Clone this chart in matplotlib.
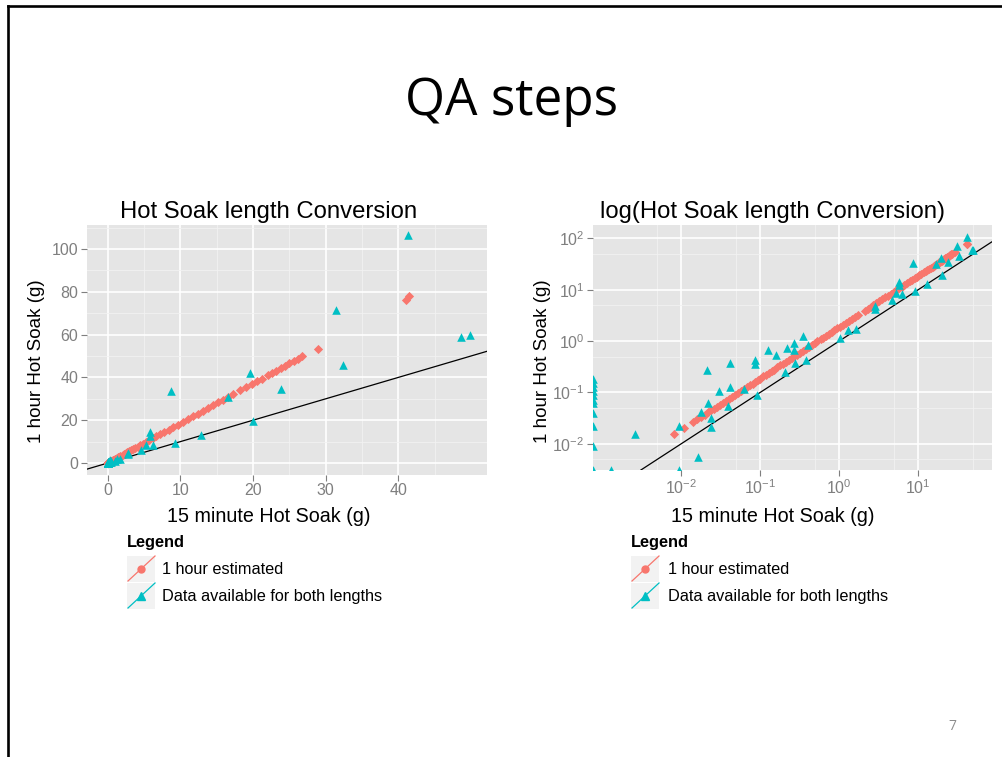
import numpy as np
import matplotlib
matplotlib.use("Agg")
import matplotlib.pyplot as plt
from matplotlib.lines import Line2D
from matplotlib.patches import Rectangle
from matplotlib.ticker import FixedLocator, LogFormatterSciNotation

plt.rcParams['font.family'] = ['Liberation Sans', 'DejaVu Sans']
plt.rcParams['axes.unicode_minus'] = False

# ---------------- data ----------------
# "1 hour estimated" (converted values)
est_15min = [0.008, 0.011, 0.014, 0.016, 0.018, 0.02, 0.022, 0.024, 0.026, 0.028,
             0.031, 0.034, 0.037, 0.04, 0.044, 0.048, 0.052, 0.057, 0.062, 0.068,
             0.074, 0.08, 0.087, 0.095, 0.10, 0.11, 0.12, 0.13, 0.14, 0.15,
             0.165, 0.18, 0.195, 0.21, 0.23, 0.25, 0.27, 0.29, 0.32, 0.35,
             0.38, 0.41, 0.45, 0.49, 0.53, 0.58, 0.63, 0.68, 0.74, 0.8,
             0.87, 0.95, 1.03, 1.12, 1.22, 1.33, 1.45, 1.6, 1.75, 2.1,
             2.3, 2.5, 2.7, 2.95, 3.2, 3.5, 3.8, 4.1, 4.5, 4.9,
             5.3, 5.7, 6.2, 6.7, 7.2, 7.8, 8.4, 9.0, 9.6, 10.3,
             11.0, 11.7, 12.4, 13.1, 13.8, 14.5, 15.2, 15.9, 16.5, 17.3,
             18.2, 19.0, 19.8, 20.5, 21.2, 22.0, 22.6, 23.2, 23.8, 24.4,
             25.0, 25.6, 26.2, 26.8, 28.9, 41.1, 41.5]
est_1hr = [0.0155, 0.0205, 0.026, 0.0298, 0.0335, 0.0372, 0.041, 0.0446, 0.0484, 0.0521,
           0.0577, 0.0632, 0.0688, 0.0744, 0.0818, 0.0893, 0.0967, 0.106, 0.115, 0.126,
           0.138, 0.149, 0.162, 0.177, 0.186, 0.205, 0.223, 0.242, 0.26, 0.279,
           0.307, 0.335, 0.363, 0.391, 0.428, 0.465, 0.502, 0.539, 0.595, 0.651,
           0.707, 0.763, 0.837, 0.911, 0.986, 1.08, 1.17, 1.26, 1.38, 1.49,
           1.62, 1.77, 1.92, 2.08, 2.27, 2.47, 2.70, 2.98, 3.26, 3.91,
           4.28, 4.65, 5.02, 5.49, 5.95, 6.51, 7.07, 7.63, 8.37, 9.11,
           9.86, 10.6, 11.5, 12.5, 13.4, 14.5, 15.6, 16.7, 17.9, 19.2,
           20.5, 21.8, 23.1, 24.4, 25.7, 27.0, 28.3, 29.6, 30.7, 32.2,
           33.9, 35.3, 36.8, 38.1, 39.4, 40.9, 42.0, 43.2, 44.3, 45.4,
           46.5, 47.6, 48.7, 49.8, 53.5, 76.2, 77.8]

# "Data available for both lengths" (measured pairs)
both_15min = [0, 0, 0, 0, 0, 0, 0, 0, 0, 0, 0,
              0.0013, 0.0026, 0.0095, 0.0094, 0.0161, 0.0179, 0.0218, 0.024, 0.024, 0.021,
              0.0305, 0.0417, 0.0417, 0.0396, 0.063, 0.086, 0.086, 0.091, 0.127, 0.159,
              0.206, 0.22, 0.27, 0.27, 0.275, 0.345, 0.38, 0.40, 1.02, 1.30,
              1.63, 2.8, 2.8, 4.6, 5.2, 5.76, 5.76, 6.2, 8.7, 9.2,
              12.9, 16.6, 19.6, 20.0, 23.8, 31.4, 32.4, 41.3, 48.6, 49.9]
both_1hr = [0.18, 0.15, 0.125, 0.107, 0.089, 0.072, 0.063, 0.04, 0.022, 0.0089, 0,
            0, 0.0155, 0, 0.022, 0.0055, 0.042, 0.063, 0.032, 0.021, 0.27,
            0.107, 0.37, 0.126, 0.055, 0.115, 0.42, 0.35, 0.089, 0.68, 0.54,
            0.245, 0.72, 0.91, 0.68, 0.37, 1.26, 0.43, 0.85, 1.15, 1.66,
            1.69, 4.8, 4.2, 6.3, 8.5, 14.4, 12.4, 8.3, 33.5, 9.4,
            13.2, 31.0, 42.0, 19.5, 34.5, 71.5, 46.0, 106.5, 58.8, 59.8]

lin_xticks = [0, 10, 20, 30, 40]
lin_yticks = [0, 20, 40, 60, 80, 100]
log_xticks = [1e-2, 1e-1, 1e0, 1e1]
log_yticks = [1e-2, 1e-1, 1e0, 1e1, 1e2]

# ---------------- style ----------------
W, H = 1003, 757
RED = '#F8766D'
CYAN = '#00BFC4'
PANEL = '#E5E5E5'
MINOR = '#F2F2F2'
TICKC = '#7F7F7F'

fig = plt.figure(figsize=(W / 100, H / 100), dpi=100)
fig.patch.set_facecolor('white')


def fx(x):
    return x / W


def fy(y):
    return 1 - y / H


# slide border (top and left edges)
fig.add_artist(Line2D([fx(8.5), fx(8.5)], [fy(5.5), 0], color='black', lw=1.9,
                      transform=fig.transFigure))
fig.add_artist(Line2D([fx(8.5), 1], [fy(5.5), fy(5.5)], color='black', lw=1.9,
                      transform=fig.transFigure))

fig.text(fx(512), fy(115), 'QA steps', family=['Open Sans', 'DejaVu Sans'], fontsize=37,
         ha='center', va='baseline', color='black')
fig.text(fx(952), fy(727), '7', fontsize=10, color='#8C8C8C', ha='center', va='center',
         family=['Open Sans', 'DejaVu Sans'])


def style_axes(ax):
    ax.set_facecolor(PANEL)
    for s in ax.spines.values():
        s.set_visible(False)
    ax.grid(True, which='major', color='white', lw=1.2, zorder=0)
    ax.grid(True, which='minor', color=MINOR, lw=0.6, zorder=0)
    ax.set_axisbelow(True)
    ax.tick_params(which='major', length=4, width=0.8, color=TICKC, labelcolor=TICKC,
                   labelsize=11.5, pad=2)
    ax.tick_params(which='minor', length=0)


# ---------- left panel: linear ----------
ax1 = fig.add_axes([fx(86.7), fy(475), (487 - 86.7) / W, 250 / H])
style_axes(ax1)
ax1.set_xlim(-2.9, 52.2)
ax1.set_ylim(-5.6, 111.2)
ax1.xaxis.set_major_locator(FixedLocator(lin_xticks))
ax1.yaxis.set_major_locator(FixedLocator(lin_yticks))
ax1.xaxis.set_minor_locator(FixedLocator([5, 15, 25, 35, 45]))
ax1.yaxis.set_minor_locator(FixedLocator([10, 30, 50, 70, 90, 110]))
ax1.axline((0, 0), (1, 1), color='black', lw=0.9, zorder=3)
ax1.scatter(est_15min, est_1hr, marker='D', s=22, color=RED, lw=0, zorder=4)
ax1.scatter(both_15min, both_1hr, marker='^', s=38, color=CYAN, lw=0, zorder=5)

# ---------- right panel: log-log ----------
ax2 = fig.add_axes([fx(592.7), fy(470), (991.7 - 592.7) / W, 245 / H])
style_axes(ax2)
ax2.set_xscale('log')
ax2.set_yscale('log')
xlo, xhi = 10 ** -3.12, 10 ** 1.93
ylo, yhi = 10 ** -2.51, 10 ** 2.26
ax2.set_xlim(xlo, xhi)
ax2.set_ylim(ylo, yhi)
ax2.xaxis.set_major_locator(FixedLocator(log_xticks))
ax2.yaxis.set_major_locator(FixedLocator(log_yticks))
ax2.xaxis.set_major_formatter(LogFormatterSciNotation())
ax2.yaxis.set_major_formatter(LogFormatterSciNotation())
ax2.xaxis.set_minor_locator(FixedLocator([5e-3, 5e-2, 5e-1, 5, 50]))
ax2.yaxis.set_minor_locator(FixedLocator([5e-3, 5e-2, 5e-1, 5, 50]))
ax2.axline((1, 1), (10, 10), color='black', lw=0.9, zorder=3)
ax2.scatter(est_15min, est_1hr, marker='D', s=22, color=RED, lw=0, zorder=4)
# zeros are drawn on the panel edge (log of 0 = -Inf)
bx = np.where(np.array(both_15min) > 0, both_15min, xlo)
by = np.where(np.array(both_1hr) > 0, both_1hr, ylo)
ax2.scatter(bx, by, marker='^', s=38, color=CYAN, lw=0, zorder=5)

# ---------- titles and axis titles ----------
for cx, title, ylx in [(268.5, 'Hot Soak length Conversion', 36.5),
                       (773, 'log(Hot Soak length Conversion)', 542.5)]:
    fig.text(fx(cx), fy(212), title, fontsize=17.2, ha='center', va='center', color='black')
    fig.text(fx(cx), fy(516), '15 minute Hot Soak (g)', fontsize=14.2, ha='center',
             va='center', color='black')
    fig.text(fx(ylx), fy(361.5), '1 hour Hot Soak (g)', fontsize=13.5, ha='center',
             va='center', rotation=90, color='black')

# ---------- legends ----------
for lx, tx in [(127, 162), (631, 668)]:
    fig.text(fx(lx), fy(542.5), 'Legend', fontsize=11.8, fontweight='bold',
             ha='left', va='center')
    for k, (lab, col, mk, ms) in enumerate([('1 hour estimated', RED, 'o', 5),
                                            ('Data available for both lengths', CYAN, '^', 6)]):
        top = 556 + k * 27
        fig.add_artist(Rectangle((fx(lx), fy(top + 26)), 28 / W, 26 / H, facecolor='#F2F2F2',
                                 edgecolor='none', transform=fig.transFigure))
        fig.add_artist(Line2D([fx(lx + 1), fx(lx + 28)], [fy(top + 25), fy(top)], color=col,
                              lw=0.9, transform=fig.transFigure))
        fig.add_artist(Line2D([fx(lx + 14)], [fy(top + 13)], color=col, marker=mk, ms=ms,
                              lw=0, transform=fig.transFigure))
        fig.text(fx(tx), fy(top + 14), lab, fontsize=11.7, ha='left', va='center')

fig.savefig('out.png', dpi=100)
